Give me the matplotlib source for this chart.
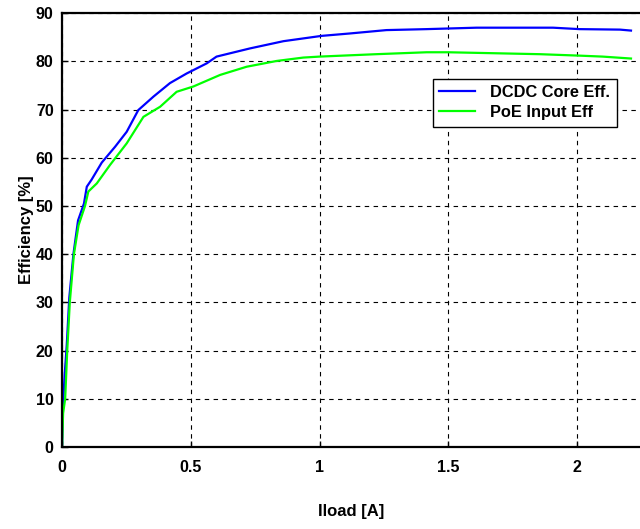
import matplotlib
matplotlib.use("Agg")
import matplotlib.pyplot as plt

plt.rcParams['font.family'] = ['Liberation Sans', 'DejaVu Sans']
plt.rcParams['font.weight'] = 'bold'

# DCDC core efficiency (blue)
x_core = [0.0, 0.003, 0.01, 0.018, 0.028, 0.044, 0.062, 0.085, 0.096, 0.115, 0.154,
          0.206, 0.251, 0.296, 0.355, 0.419, 0.484, 0.562, 0.6, 0.73, 0.86, 1.008,
          1.118, 1.26, 1.416, 1.61, 1.907, 2.01, 2.167, 2.21]
y_core = [0.0, 8.0, 15.0, 21.0, 31.0, 40.0, 47.0, 50.5, 54.0, 55.5, 59.0,
          62.3, 65.4, 69.9, 72.7, 75.5, 77.5, 79.6, 81.0, 82.7, 84.2, 85.3,
          85.8, 86.5, 86.7, 87.0, 87.0, 86.7, 86.6, 86.4]

# PoE input efficiency (green)
x_poe = [0.0, 0.004, 0.012, 0.02, 0.03, 0.046, 0.064, 0.089, 0.102, 0.135, 0.186,
         0.251, 0.316, 0.381, 0.445, 0.51, 0.614, 0.717, 0.834, 0.937, 1.0,
         1.22, 1.416, 1.5, 1.856, 2.01, 2.1, 2.21]
y_poe = [0.0, 7.0, 10.0, 20.0, 30.0, 40.0, 46.0, 50.0, 53.0, 54.7, 58.5,
         63.0, 68.5, 70.6, 73.7, 74.8, 77.2, 78.9, 80.1, 80.8, 81.0,
         81.5, 81.9, 81.9, 81.5, 81.2, 81.0, 80.6]

fig = plt.figure(figsize=(6.4, 5.29), dpi=100)
ax = fig.add_axes([0.097, 0.155, 0.903, 0.82])

ax.plot(x_core, y_core, color='#0000ff', linewidth=1.6, label='DCDC Core Eff.')
ax.plot(x_poe, y_poe, color='#00ff00', linewidth=1.6, label='PoE Input Eff')

ax.set_xlim(0, 2.245)
ax.set_ylim(0, 90)
ax.set_xticks([0, 0.5, 1, 1.5, 2])
ax.set_xticklabels(['0', '0.5', '1', '1.5', '2'])
ax.set_yticks(range(0, 91, 10))
ax.grid(True, color='black', linestyle=(0, (4, 4)), linewidth=0.8)
ax.tick_params(direction='in', labelsize=11.5, width=1, length=4)
ax.tick_params(axis='x', pad=9)
ax.tick_params(axis='y', pad=6)
for s in ['left', 'bottom', 'top']:
    ax.spines[s].set_linewidth(1.6)
ax.spines['right'].set_visible(False)

ax.set_xlabel('Iload [A]', fontsize=12, fontweight='bold', labelpad=21)
ax.set_ylabel('Efficiency [%]', fontsize=12, fontweight='bold', labelpad=1)

leg = ax.legend(loc='upper left', bbox_to_anchor=(0.627, 0.868), fontsize=11.8,
                frameon=True, fancybox=False, edgecolor='black', framealpha=1,
                handlelength=2.2, borderpad=0.4, labelspacing=0.3,
                handletextpad=0.9)
leg.get_frame().set_linewidth(1.0)

fig.savefig('out.png', dpi=100)
